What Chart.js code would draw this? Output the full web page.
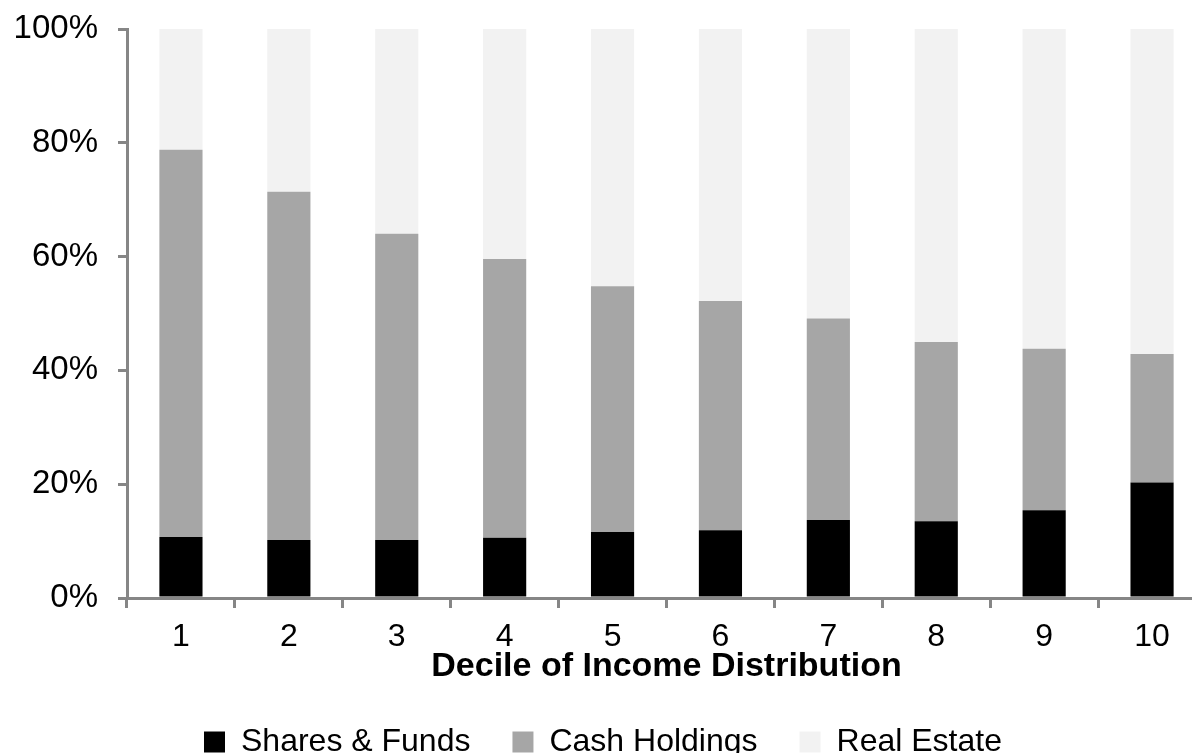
<!DOCTYPE html>
<html>
<head>
<meta charset="utf-8">
<script src="https://cdn.jsdelivr.net/npm/chart.js@4"></script>
<style>
  html, body { margin: 0; padding: 0; background: #fff; overflow: hidden; }
  #wrap { position: relative; width: 1206px; height: 768px; }
</style>
</head>
<body>
<div id="wrap"><canvas id="barchart"></canvas></div>
<script>
// values, in % of household wealth
var deciles = ['1', '2', '3', '4', '5', '6', '7', '8', '9', '10'];
var sharesFunds = [10.7, 10.2, 10.2, 10.6, 11.6, 11.9, 13.7, 13.5, 15.4, 20.3];
var cashHoldings = [68.1, 61.2, 53.8, 49.0, 43.2, 40.3, 35.4, 31.5, 28.4, 22.6];
var realEstate = [21.2, 28.6, 36.0, 40.4, 45.2, 47.8, 50.9, 55.0, 56.2, 57.1];
var yTicks = [0, 20, 40, 60, 80, 100];

var axisGrey = '#868686';
var font = 'Arial, "Liberation Sans", sans-serif';

var ctx = document.getElementById('barchart').getContext('2d');
var myChart = new Chart(ctx, {
    type: 'bar',
    data: {
        labels: deciles,
        datasets: [{
            label: 'Shares & Funds',
            data: sharesFunds,
            backgroundColor: '#000000'
        }, {
            label: 'Cash Holdings',
            data: cashHoldings,
            backgroundColor: '#A6A6A6'
        }, {
            label: 'Real Estate',
            data: realEstate,
            backgroundColor: '#F2F2F2'
        }]
    },
    options: {
        responsive: true,
        maintainAspectRatio: false,
        animation: false,
        barPercentage: 0.4,
        categoryPercentage: 1.0,
        layout: { padding: { top: 29, left: 0, right: 0, bottom: 0 } },
        plugins: {
            tooltip: { enabled: false },
            legend: {
                position: 'bottom',
                labels: {
                    color: '#000',
                    font: { family: font, size: 32 },
                    boxWidth: 21,
                    boxHeight: 21,
                    padding: 42
                }
            }
        },
        scales: {
            x: {
                stacked: true,
                border: { display: true, color: axisGrey, width: 3 },
                grid: { display: true, drawOnChartArea: false, drawTicks: true, tickLength: 10, color: axisGrey, lineWidth: 3 },
                ticks: { color: '#000', font: { family: font, size: 32, lineHeight: 1 }, padding: 13, maxRotation: 0 },
                title: {
                    display: true,
                    text: 'Decile of Income Distribution',
                    color: '#000',
                    font: { family: font, size: 34, weight: 'bold', lineHeight: 1 },
                    padding: { top: -16, bottom: 0 }
                }
            },
            y: {
                stacked: true,
                min: 0,
                max: 100,
                afterBuildTicks: function (scale) {
                    scale.ticks = yTicks.map(function (v) { return { value: v }; });
                },
                afterFit: function (scale) {
                    scale.width = 127;
                    scale.paddingTop = 0;
                    scale.paddingBottom = 0;
                },
                border: { display: true, color: axisGrey, width: 3 },
                grid: { display: true, drawOnChartArea: false, drawTicks: true, tickLength: 9, color: axisGrey, lineWidth: 3 },
                ticks: {
                    color: '#000',
                    font: { family: font, size: 33 },
                    padding: 20,
                    callback: function (v) { return v + '%'; }
                }
            }
        }
    }
});
</script>
</body>
</html>
